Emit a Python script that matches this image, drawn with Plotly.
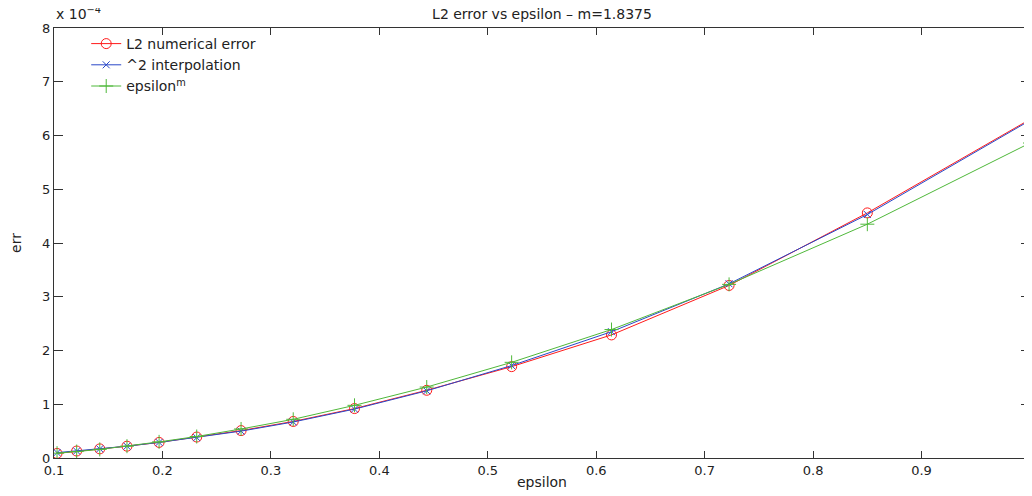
import plotly.graph_objects as go

# epsilon values (x) and errors (errors in units of 1e-4)
epsilon = [1.0, 0.85, 0.7225, 0.6141, 0.522, 0.4437, 0.3771, 0.3206,
           0.2725, 0.2316, 0.1969, 0.1673, 0.1422, 0.1209, 0.1028]
l2_err = [6.30, 4.56, 3.21, 2.29, 1.70, 1.26, 0.92, 0.68,
          0.51, 0.39, 0.29, 0.22, 0.17, 0.13, 0.085]
interp_err = [6.28, 4.53, 3.24, 2.35, 1.72, 1.25, 0.91, 0.67,
              0.50, 0.38, 0.29, 0.22, 0.17, 0.13, 0.10]
eps_m = [5.86, 4.35, 3.23, 2.39, 1.78, 1.32, 0.98, 0.72,
         0.54, 0.40, 0.30, 0.22, 0.16, 0.12, 0.09]

SCALE = 1e-4
y_ticks = [0, 1, 2, 3, 4, 5, 6, 7, 8]
x_ticks = [0.1, 0.2, 0.3, 0.4, 0.5, 0.6, 0.7, 0.8, 0.9, 1]
x_labels = ["0.1", "0.2", "0.3", "0.4", "0.5", "0.6", "0.7", "0.8", "0.9", "1"]

FONT = "DejaVu Sans, Liberation Sans, Arial, sans-serif"
TXT = "#222222"

fig = go.Figure()
fig.add_trace(go.Scatter(
    x=epsilon, y=[v * SCALE for v in l2_err], name="L2 numerical error",
    mode="lines+markers",
    line=dict(color="#ff1a1a", width=1),
    marker=dict(symbol="circle-open", size=10, color="#ff1a1a", line=dict(width=1)),
))
fig.add_trace(go.Scatter(
    x=epsilon, y=[v * SCALE for v in interp_err], name="^2 interpolation",
    mode="lines+markers",
    line=dict(color="#2a48c8", width=1),
    marker=dict(symbol="x-thin-open", size=7, color="#2a48c8", line=dict(width=1, color="#2a48c8")),
))
fig.add_trace(go.Scatter(
    x=epsilon, y=[v * SCALE for v in eps_m], name="epsilon<sup>m</sup>",
    mode="lines+markers",
    line=dict(color="#4fb83a", width=1),
    marker=dict(symbol="cross-thin-open", size=10, color="#4fb83a", line=dict(width=1, color="#4fb83a")),
))

axis_common = dict(
    showline=True, linecolor="#333333", linewidth=1, mirror="allticks",
    ticks="inside", tickcolor="#333333", showgrid=False, zeroline=False,
    automargin=False,
    tickfont=dict(family=FONT, size=13, color=TXT),
)

# the page has an 8px body margin, so the margins below are shifted by 8px
fig.update_layout(
    width=1032, height=496,
    margin=dict(l=46, r=10, t=20, b=46),
    paper_bgcolor="white", plot_bgcolor="white",
    font=dict(family=FONT, size=13, color=TXT),
    title=dict(text="L2 error vs epsilon \u2013 m=1.8375", x=0.5, xref="paper",
               xanchor="center", y=0.998, yanchor="top",
               font=dict(family=FONT, size=14, color=TXT)),
    xaxis=dict(range=[0.1, 1], tickvals=x_ticks, ticktext=x_labels, ticklen=7,
               title=dict(text="epsilon", standoff=0, font=dict(family=FONT, size=14)),
               **axis_common),
    yaxis=dict(range=[0, 8 * SCALE], tickvals=[t * SCALE for t in y_ticks],
               ticktext=[str(t) for t in y_ticks], ticklen=9,
               title=dict(text="err", standoff=24, font=dict(family=FONT, size=14)),
               **axis_common),
    legend=dict(x=0.033, y=1.0, xanchor="left", yanchor="top",
                bgcolor="rgba(255,255,255,0)", borderwidth=0,
                font=dict(family=FONT, size=14, color=TXT), tracegroupgap=0),
    showlegend=True,
)

fig.add_annotation(
    xref="paper", yref="paper", x=0.0, y=1.0, xanchor="left", yanchor="bottom",
    text="x 10<sup>\u22124</sup>", showarrow=False,
    font=dict(family=FONT, size=14, color=TXT), yshift=4,
)

fig.write_html("out.html")
